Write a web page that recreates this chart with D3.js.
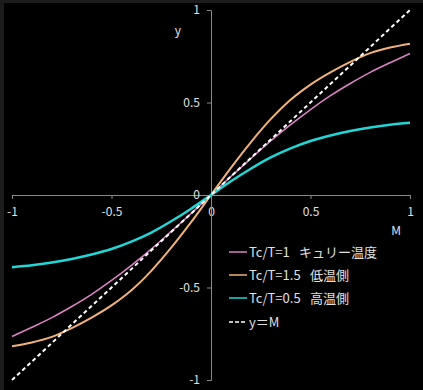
<!DOCTYPE html>
<html>
<head>
<meta charset="utf-8">
<script src="https://cdn.jsdelivr.net/npm/d3@7"></script>
<style>
  body { margin: 0; background: #000; }
  svg text { font-family: "Noto Sans CJK JP", "Noto Sans", sans-serif; fill: #e0e0e0; }
</style>
</head>
<body>
<div id="chart"></div>
<script>
// values
const mValues = [-1, -0.9, -0.8, -0.7, -0.6, -0.5, -0.4, -0.3, -0.2, -0.1, 0,
                 0.1, 0.2, 0.3, 0.4, 0.5, 0.6, 0.7, 0.8, 0.9, 1];
const curie = [-0.765, -0.715, -0.663, -0.603, -0.537, -0.462, -0.38, -0.292, -0.197, -0.1, 0,
               0.1, 0.197, 0.292, 0.38, 0.462, 0.537, 0.603, 0.663, 0.715, 0.765];
const lowTemp = [-0.818, -0.797, -0.767, -0.72, -0.663, -0.597, -0.515, -0.41, -0.285, -0.147, 0,
                 0.147, 0.285, 0.41, 0.515, 0.597, 0.663, 0.72, 0.767, 0.797, 0.818];
const highTemp = [-0.39, -0.38, -0.365, -0.346, -0.322, -0.292, -0.252, -0.203, -0.142, -0.074, 0,
                  0.074, 0.142, 0.203, 0.252, 0.292, 0.322, 0.346, 0.365, 0.38, 0.39];
const identity = [-1, 1];
const tickValues = [-1, -0.5, 0, 0.5, 1];
const legendLabels = [
    ["Tc/T=1", "キュリー温度"],
    ["Tc/T=1.5", "低温側"],
    ["Tc/T=0.5", "高温側"],
    ["y＝M", ""]
];

const width = 423, height = 390;

const svg = d3.select("#chart").append("svg")
    .attr("width", width)
    .attr("height", height);

// outer frame and black plot area
svg.append("rect").attr("width", width).attr("height", height).attr("fill", "#1c1c1c");
svg.append("rect").attr("x", 4).attr("y", 3).attr("width", width - 4).attr("height", height - 3).attr("fill", "#000");

const x = d3.scaleLinear().domain([-1, 1]).range([12, 410]);
const y = d3.scaleLinear().domain([-1, 1]).range([380, 10]);

// plain hyphen minus like the original
const fmt = d => String(d);

// axes through the origin
const xAxis = svg.append("g")
    .attr("transform", `translate(0,${y(0)})`)
    .call(d3.axisBottom(x).tickValues(tickValues).tickFormat(fmt).tickSize(4).tickPadding(8));
const yAxis = svg.append("g")
    .attr("transform", `translate(${x(0)},0)`)
    .call(d3.axisLeft(y).tickValues(tickValues).tickFormat(fmt).tickSize(4).tickPadding(7));

[xAxis, yAxis].forEach(a => {
    a.selectAll("path, line").attr("stroke", "#8a8a8a");
    a.selectAll("text").attr("fill", "#e0e0e0").style("font-size", "12px");
});

svg.append("text").attr("x", 178).attr("y", 35).attr("text-anchor", "middle")
    .style("font-size", "12px").text("y");
svg.append("text").attr("x", 396).attr("y", 235).attr("text-anchor", "middle")
    .style("font-size", "12px").text("M");

const line = d3.line()
    .x(d => x(d[0]))
    .y(d => y(d[1]))
    .curve(d3.curveMonotoneX);

const series = [
    { values: curie, color: "#d982c2", width: 1.6 },
    { values: lowTemp, color: "#f0b27a", width: 2 },
    { values: highTemp, color: "#22d6d6", width: 2.5 }
];

series.forEach(s => {
    svg.append("path")
        .datum(mValues.map((m, i) => [m, s.values[i]]))
        .attr("fill", "none")
        .attr("stroke", s.color)
        .attr("stroke-width", s.width)
        .attr("d", line);
});

// y = M dashed line
svg.append("path")
    .datum(identity.map(m => [m, m]))
    .attr("fill", "none")
    .attr("stroke", "#ffffff")
    .attr("stroke-width", 2)
    .attr("stroke-dasharray", "4,3")
    .attr("d", d3.line().x(d => x(d[0])).y(d => y(d[1])));

// legend
const legendColors = ["#d982c2", "#f0b27a", "#22d6d6", "#ffffff"];
const legendY = [252, 275, 298, 322];
legendLabels.forEach((lab, i) => {
    const g = svg.append("g").attr("transform", `translate(229,${legendY[i]})`);
    g.append("line")
        .attr("x1", 0).attr("x2", 18)
        .attr("stroke", legendColors[i])
        .attr("stroke-width", 1.5)
        .attr("stroke-dasharray", i === 3 ? "4,2" : null);
    g.append("text").attr("x", 20).attr("dy", "0.35em")
        .style("font-size", "13px").text(lab[0]);
    if (lab[1]) {
        g.append("text").attr("x", i === 0 ? 70 : 81).attr("dy", "0.35em")
            .style("font-size", "13px").text(lab[1]);
    }
});
</script>
</body>
</html>
